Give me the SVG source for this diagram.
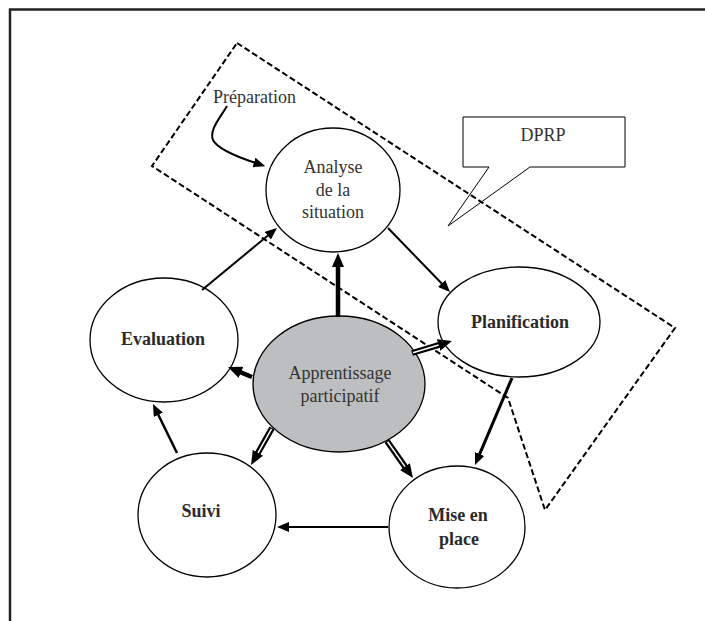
<svg xmlns="http://www.w3.org/2000/svg" width="705" height="621" viewBox="0 0 705 621">
<style>
.node{fill:#fff;stroke:#000;stroke-width:1.3}
.center{fill:#bdbec0;stroke:#000;stroke-width:1.3}
.t{font-family:"Liberation Serif","Times New Roman",serif;font-size:18px;fill:#333;text-anchor:middle}
.b{font-weight:bold;fill:#2a2a2a}
.thin{stroke:#000;stroke-width:2;fill:none;marker-end:url(#a)}
.thick{stroke:#000;stroke-width:4.5;fill:none;marker-end:url(#b)}
.hol{stroke:#000;stroke-width:6;fill:none;marker-end:url(#b)}
.holin{stroke:#fff;stroke-width:1.5;fill:none}
</style>
<defs>
<marker id="a" viewBox="0 0 12 10" markerWidth="12" markerHeight="10" refX="5" refY="5" markerUnits="userSpaceOnUse" orient="auto"><path d="M0,0 L12,5 L0,10 z" fill="#000"/></marker>
<marker id="b" viewBox="0 0 14 12" markerWidth="14" markerHeight="12" refX="6" refY="6" markerUnits="userSpaceOnUse" orient="auto"><path d="M0,0 L14,6 L0,12 z" fill="#000"/></marker>
</defs>
<rect width="705" height="621" fill="#fff"/>
<path d="M10,621 L10,9.5 L705,9.5" fill="none" stroke="#222" stroke-width="2.5"/>

<g id="dprp">
<path d="M463,117 L625,117 L625,167 L530,167 L448,226 L489,167 L463,167 Z" fill="#fff" stroke="#000" stroke-width="1"/>
<text class="t" x="543" y="141">DPRP</text>
</g>

<g id="zone">
<path d="M237,43 L675,328 L545,510 L508,398 L152,166 Z" fill="none" stroke="#000" stroke-width="2" stroke-dasharray="6,3"/>
</g>

<g id="preparation">
<text class="t" x="213" y="103" style="text-anchor:start">Préparation</text>
</g>

<g id="analyse">
<ellipse class="node" cx="333" cy="190" rx="67" ry="62"/>
<text class="t" x="333" y="173">Analyse</text>
<text class="t" x="333" y="196">de la</text>
<text class="t" x="333" y="218">situation</text>
</g>

<g id="planification">
<ellipse class="node" cx="519" cy="322" rx="81" ry="55"/>
<text class="t b" x="520" y="328">Planification</text>
</g>

<g id="evaluation">
<ellipse class="node" cx="164" cy="340" rx="74" ry="62"/>
<text class="t b" x="163" y="345">Evaluation</text>
</g>

<g id="apprentissage">
<ellipse class="center" cx="339" cy="384" rx="86" ry="68"/>
<text class="t" x="340" y="379">Apprentissage</text>
<text class="t" x="340" y="402">participatif</text>
</g>

<g id="suivi">
<ellipse class="node" cx="207" cy="515" rx="69" ry="62"/>
<text class="t b" x="201" y="517">Suivi</text>
</g>

<g id="mise">
<ellipse class="node" cx="457" cy="527" rx="68" ry="61"/>
<text class="t b" x="458" y="521">Mise en</text>
<text class="t b" x="459" y="545">place</text>
</g>

<g id="connectors">
<path class="thin" d="M227,106 C220,118 209,130 213,140 C218,150 240,158 258.7,164"/>
<line class="thin" x1="202" y1="290" x2="271.6" y2="232.5"/>
<line class="thick" x1="338" y1="317" x2="338" y2="261"/>
<line class="thin" x1="388" y1="228" x2="445.1" y2="287"/>
<line class="hol" x1="412" y1="353" x2="444.3" y2="343.3"/>
<line class="holin" x1="413" y1="352.7" x2="438.6" y2="345"/>
<line class="thin" style="stroke-width:3" x1="512" y1="378" x2="477.7" y2="458.6"/>
<line class="hol" x1="387" y1="441" x2="408.4" y2="471.5"/>
<line class="holin" x1="387.6" y1="441.8" x2="405" y2="466.6"/>
<line class="hol" x1="272" y1="428" x2="255" y2="458"/>
<line class="holin" x1="271.5" y1="428.9" x2="258" y2="452.8"/>
<line class="thick" x1="252" y1="377" x2="235.4" y2="370.1"/>
<line class="thin" x1="388" y1="527" x2="284" y2="527"/>
<line class="thin" style="stroke-width:2.5" x1="177" y1="453" x2="156.1" y2="410.3"/>
</g>
</svg>
